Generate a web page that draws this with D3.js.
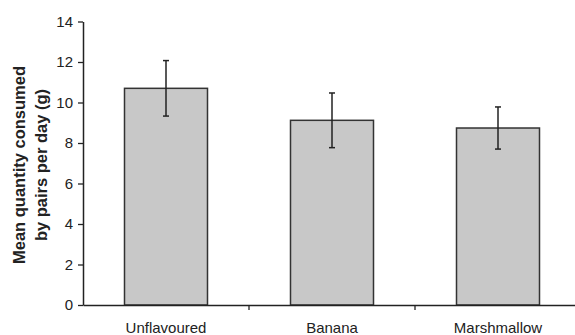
<!DOCTYPE html>
<html>
<head>
<meta charset="utf-8">
<script src="https://cdn.jsdelivr.net/npm/d3@7"></script>
<style>
html,body{margin:0;padding:0;background:#fff;}
svg{display:block;}
</style>
</head>
<body>
<svg id="chart" width="575" height="335"></svg>
<script>
const categories = ["Unflavoured", "Banana", "Marshmallow"];
const means = [10.7, 9.12, 8.74];
const errors = [1.37, 1.35, 1.04];
const yTicks = [0, 2, 4, 6, 8, 10, 12, 14];
const yLabelLines = ["Mean quantity consumed", "by pairs per day (g)"];

const svg = d3.select("#chart");
const ink = "#222";
const font = "Liberation Sans, Arial, sans-serif";
const mLeft = 83, mRight = 581, mTop = 21.5, mBottom = 305;

const x = d3.scaleBand().domain(categories).range([mLeft, mRight]).paddingInner(0.5).paddingOuter(0.25);
const y = d3.scaleLinear().domain([0, 14]).range([mBottom, mTop]);

// bars
svg.selectAll("rect.bar").data(categories).enter().append("rect")
  .attr("class", "bar")
  .attr("x", d => x(d))
  .attr("y", (d, i) => y(means[i]))
  .attr("width", x.bandwidth())
  .attr("height", (d, i) => y(0) - y(means[i]))
  .attr("fill", "#c8c8c8")
  .attr("stroke", "#333")
  .attr("stroke-width", 1.5);

// error bars
const eb = svg.selectAll("g.err").data(categories).enter().append("g").attr("class", "err")
  .attr("stroke", ink).attr("stroke-width", 1.5);
eb.append("line")
  .attr("x1", d => x(d) + x.bandwidth() / 2).attr("x2", d => x(d) + x.bandwidth() / 2)
  .attr("y1", (d, i) => y(means[i] + errors[i])).attr("y2", (d, i) => y(means[i] - errors[i]));
eb.append("line")
  .attr("x1", d => x(d) + x.bandwidth() / 2 - 3).attr("x2", d => x(d) + x.bandwidth() / 2 + 3)
  .attr("y1", (d, i) => y(means[i] + errors[i])).attr("y2", (d, i) => y(means[i] + errors[i]));
eb.append("line")
  .attr("x1", d => x(d) + x.bandwidth() / 2 - 3).attr("x2", d => x(d) + x.bandwidth() / 2 + 3)
  .attr("y1", (d, i) => y(means[i] - errors[i])).attr("y2", (d, i) => y(means[i] - errors[i]));

// y axis
const yAxis = svg.append("g").attr("transform", `translate(${mLeft},0)`)
  .call(d3.axisLeft(y).tickValues(yTicks).tickSize(5).tickPadding(5).tickSizeOuter(0));
yAxis.select(".domain").attr("stroke", ink).attr("stroke-width", 1.5);
yAxis.selectAll(".tick line").attr("stroke", ink).attr("stroke-width", 1.3);
yAxis.selectAll(".tick text").attr("fill", ink).style("font-family", font).style("font-size", "15px");

// x axis
const xAxis = svg.append("g").attr("transform", `translate(0,${mBottom})`)
  .call(d3.axisBottom(x).tickSize(0).tickPadding(17).tickSizeOuter(0));
xAxis.select(".domain").attr("stroke", ink).attr("stroke-width", 1.5);
xAxis.selectAll(".tick text").attr("fill", ink).style("font-family", font).style("font-size", "15px");
// boundary ticks between categories
const boundaries = categories.slice(1).map(c => x(c) - x.step() * x.paddingInner() / 2);
boundaries.push(mRight);
xAxis.selectAll("line.bt").data(boundaries).enter().append("line")
  .attr("class", "bt")
  .attr("x1", d => d).attr("x2", d => d).attr("y1", 0).attr("y2", 5)
  .attr("stroke", ink).attr("stroke-width", 1.3);

// y label
const yl = svg.append("text")
  .attr("transform", `translate(0,165) rotate(-90)`)
  .attr("text-anchor", "middle")
  .attr("fill", ink)
  .style("font-family", font)
  .style("font-size", "16.5px").style("font-weight", "bold");
yl.selectAll("tspan").data(yLabelLines).enter().append("tspan")
  .attr("x", 0).attr("y", (d, i) => 25 + i * 22)
  .text(d => d);
</script>
</body>
</html>
